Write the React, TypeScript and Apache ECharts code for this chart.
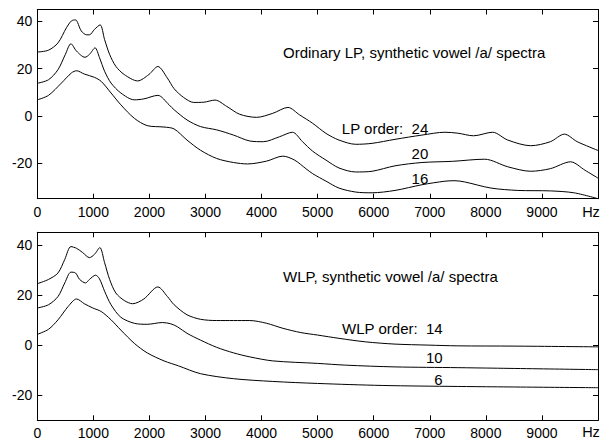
import React, { useEffect, useRef } from "react";
import * as echarts from "echarts";

// Ordinary LP spectra: [frequency Hz, level dB]
const lp24: [number, number][] = [
  [0, 27], [200, 27.8], [370, 30.9], [520, 37.3], [610, 40.2], [680, 40.6], [785, 35.9], [880, 34.3], [930, 34.3],
  [1020, 36.6], [1120, 38.5], [1200, 32.3], [1290, 26], [1400, 21], [1550, 17.5], [1790, 14.8], [1990, 17.5],
  [2150, 20.9], [2320, 16], [2440, 11.5], [2610, 7.8], [2790, 5.7], [2970, 5.8], [3170, 6.7], [3380, 4],
  [3610, 0.7], [3910, -0.6], [4200, 1.1], [4470, 3.6], [4680, 0.4], [4910, -3.1], [5150, -7.4], [5380, -10.2],
  [5680, -12], [5970, -11.6], [6380, -9.9], [6860, -8.1], [7270, -6.9], [7500, -7.3], [7780, -8.4], [8120, -6.9],
  [8390, -10.2], [8800, -12.6], [9150, -10.9], [9400, -7.7], [9630, -10.9], [10000, -14.6],
];
const lp20: [number, number][] = [
  [0, 13.8], [200, 15.3], [370, 19.6], [500, 26], [600, 30.5], [700, 27.4], [850, 24.8], [930, 26], [1030, 28.8],
  [1110, 24.6], [1200, 18.9], [1315, 13.9], [1490, 9.7], [1730, 6.8], [1900, 7.2], [2150, 8.7], [2350, 4.7],
  [2440, 2.6], [2670, -1.7], [2910, -4.5], [3200, -5.9], [3500, -8.1], [3790, -10.6], [4030, -10.9], [4320, -8.8],
  [4550, -6.9], [4730, -10.9], [4910, -14.9], [5150, -18.7], [5380, -22], [5680, -23.7], [5970, -23.4],
  [6380, -21.1], [6860, -19.7], [7400, -19.2], [7980, -18.3], [8390, -21.5], [8800, -23.4], [9150, -22.3],
  [9510, -19.4], [9770, -23], [10000, -26.3],
];
const lp16: [number, number][] = [
  [0, 6.8], [200, 8.7], [430, 13.9], [610, 18.2], [700, 19.1], [840, 17.7], [1020, 16.3], [1140, 14.6],
  [1315, 9.7], [1490, 4.7], [1730, -1], [1960, -4.1], [2260, -4.7], [2440, -5.5], [2670, -10.2], [2910, -14.5],
  [3200, -18], [3500, -19.7], [3750, -20.3], [4090, -19.1], [4380, -17], [4590, -18.7], [4790, -22.3],
  [4910, -24.4], [5150, -27.6], [5380, -30.5], [5680, -32.2], [5970, -32.5], [6380, -31.5], [6860, -29.1],
  [7270, -27.6], [7450, -27.4], [7620, -27.9], [8090, -30.5], [8570, -31.5], [9150, -31.7], [9570, -32.5],
  [10000, -35],
];

// WLP spectra
const wlp14: [number, number][] = [
  [0, 24.5], [200, 26.2], [370, 28.8], [490, 34.2], [600, 39.3], [700, 38.6], [810, 36.9], [930, 34.9],
  [1020, 36.2], [1115, 38.9], [1200, 32.9], [1290, 26.2], [1400, 20.8], [1550, 17.8], [1700, 16.5], [1900, 18.4],
  [2150, 23.2], [2320, 19.4], [2440, 16.1], [2670, 12.1], [2910, 10.3], [3200, 9.8], [3500, 9.8], [3790, 9.8],
  [4090, 8.7], [4380, 6.7], [4700, 5], [5000, 4], [5380, 2.7], [5850, 1.3], [6380, 0.4], [6970, 0], [7500, -0.3],
  [8500, -0.4], [10000, -0.7],
];
const wlp10: [number, number][] = [
  [0, 14.8], [200, 16.1], [370, 19.4], [490, 24.8], [600, 29.1], [680, 28.8], [755, 26.2], [860, 24.8],
  [930, 26.2], [1040, 27.9], [1110, 26.4], [1200, 21.5], [1315, 16.1], [1490, 11.1], [1730, 8.7], [1960, 8.3],
  [2230, 9], [2380, 8.5], [2500, 7.3], [2670, 4.7], [2910, 2], [3200, -0.9], [3500, -3.1], [3790, -4.7],
  [4200, -6.3], [5000, -7.3], [5500, -8], [6380, -8.7], [7500, -9], [10000, -9.8],
];
const wlp6: [number, number][] = [
  [0, 4.3], [200, 6.3], [370, 10.1], [550, 15.4], [700, 18.4], [840, 16.5], [990, 14.8], [1140, 13.4],
  [1315, 10.1], [1490, 6], [1730, 0.7], [1960, -3.1], [2260, -6.3], [2520, -8.3], [2910, -11.4], [3500, -13.4],
  [4200, -14.5], [5000, -15.3], [6150, -16.1], [7500, -16.5], [10000, -17],
];

const yTicks = [-20, 0, 20, 40];
const FONT = "Liberation Sans, Arial, Helvetica, sans-serif";

export default function App() {
  const ref = useRef<HTMLDivElement>(null);
  useEffect(() => {
    if (!ref.current) return;
    const chart = echarts.init(ref.current, undefined, { renderer: "svg" });
    const axisLine = { show: true, onZero: false, lineStyle: { color: "#000", width: 1 } };
    const tick = { show: true, inside: true, length: 5, lineStyle: { color: "#000", width: 1 } };
    const labelStyle = { color: "#000", fontSize: 14, fontFamily: FONT };
    const mkX = (grid: number, pos: "bottom" | "top") => ({
      type: "value",
      gridIndex: grid,
      position: pos,
      min: 0,
      max: 10000,
      interval: 1000,
      axisLine,
      axisTick: tick,
      splitLine: { show: false },
      axisLabel:
        pos === "bottom"
          ? { ...labelStyle, margin: 6, formatter: (v: number) => (v >= 10000 ? "" : String(v)) }
          : { show: false },
    });
    const mkY = (grid: number, pos: "left" | "right", min: number) => ({
      type: "value",
      gridIndex: grid,
      position: pos,
      min,
      max: 45,
      axisLine,
      axisTick: { ...tick, customValues: yTicks },
      splitLine: { show: false },
      axisLabel: pos === "left" ? { ...labelStyle, margin: 5, customValues: yTicks } : { show: false },
    });
    const line = (data: [number, number][], xi: number, yi: number) => ({
      type: "line",
      data,
      xAxisIndex: xi,
      yAxisIndex: yi,
      showSymbol: false,
      smooth: 0.3,
      lineStyle: { color: "#000", width: 1 },
      silent: true,
    });
    const txt = (x: number, y: number, text: string, align: "left" | "right" | "center" = "left", size = 15) => ({
      type: "text",
      x,
      y,
      style: { text, fill: "#000", font: `${size}px ${FONT}`, textAlign: align, textVerticalAlign: "middle" },
    });
    chart.setOption({
      animation: false,
      backgroundColor: "#fff",
      grid: [
        { left: 37.3, top: 9.5, width: 565.5, height: 189.2 },
        { left: 37.3, top: 232.3, width: 565.5, height: 188 },
      ],
      xAxis: [mkX(0, "bottom"), mkX(0, "top"), mkX(1, "bottom"), mkX(1, "top")],
      yAxis: [mkY(0, "left", -35), mkY(0, "right", -35), mkY(1, "left", -30), mkY(1, "right", -30)],
      series: [
        line(lp24, 0, 0),
        line(lp20, 0, 0),
        line(lp16, 0, 0),
        line(wlp14, 2, 2),
        line(wlp10, 2, 2),
        line(wlp6, 2, 2),
      ],
      graphic: [
        txt(283, 52, "Ordinary LP, synthetic vowel /a/ spectra"),
        txt(428.3, 128.3, "LP order:  24", "right"),
        txt(428.3, 153.3, "20", "right"),
        txt(428.3, 178.3, "16", "right"),
        txt(591, 212, "Hz", "center", 14.5),
        txt(283, 276, "WLP, synthetic vowel /a/ spectra"),
        txt(442.7, 328.3, "WLP order:  14", "right"),
        txt(442.7, 357.3, "10", "right"),
        txt(442.7, 379.3, "6", "right"),
        txt(591, 432, "Hz", "center", 14.5),
      ],
    });
    return () => chart.dispose();
  }, []);
  return <div ref={ref} style={{ width: 601, height: 442, position: "absolute", left: 0, top: 0 }} />;
}
